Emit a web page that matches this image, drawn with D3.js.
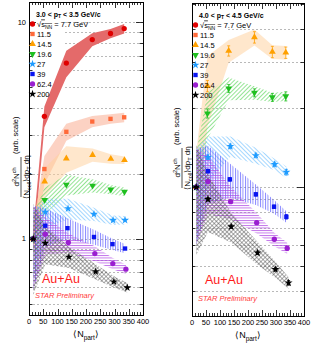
<!DOCTYPE html>
<html lang="en">
<head>
<meta charset="utf-8">
<title>Au+Au Ncoll scaled yields vs Npart</title>
<script src="https://cdn.jsdelivr.net/npm/d3@7"></script>
<style>
  body { margin: 0; background: #fff; }
  svg text { font-family: "Liberation Sans", Arial, sans-serif; }
</style>
</head>
<body>
<script>
// ---- data ----
const energies = ["7.7", "11.5", "14.5", "19.6", "27", "39", "62.4", "200"];
const npart = [
  [15, 54, 131, 222, 286, 334],
  [15, 54, 131, 222, 286, 334],
  [15, 55, 131, 223, 287, 335],
  [15, 55, 131, 223, 287, 335],
  [15, 57, 137, 228, 295, 337],
  [15, 57, 135, 228, 293, 337],
  [15, 57, 138, 231, 294, 340],
  [15, 57, 140, 234, 298, 345]
];
// 3.0 < pT < 3.5 GeV/c
const yieldLow = [
  [1, 3.68, 6.48, 8.32, 8.87, 9.35],
  [1, 2.10, 3.12, 3.48, 3.58, 3.64],
  [1, 1.84, 2.35, 2.44, 2.34, 2.31],
  [1, 1.51, 1.78, 1.76, 1.69, 1.65],
  [1, 1.33, 1.38, 1.30, 1.22, 1.22],
  [1, 1.15, 1.12, 1.02, 0.945, 0.902],
  [1, 1.05, 0.962, 0.855, 0.769, 0.724],
  [1, 0.955, 0.825, 0.706, 0.634, 0.595]
];
const sysLow = [
  [0.10, 0.11, 0.14, 0.07, 0.05, 0.05],
  [0.15, 0.15, 0.09, 0.06, 0.05, 0.05],
  [0.25, 0.15, 0.14, 0.07, 0.05, 0.04],
  [0.30, 0.14, 0.11, 0.07, 0.05, 0.045],
  [0.35, 0.15, 0.11, 0.07, 0.05, 0.045],
  [0.42, 0.20, 0.11, 0.08, 0.06, 0.05],
  [0.42, 0.20, 0.10, 0.08, 0.06, 0.05],
  [0.45, 0.20, 0.11, 0.08, 0.06, 0.05]
];
// 4.0 < pT < 4.5 GeV/c (7.7 and 11.5 not shown)
const yieldHigh = [
  [],
  [],
  [1, 2.43, 3.31, 3.73, 3.28, 3.26],
  [1, 1.91, 2.38, 2.29, 2.20, 2.22],
  [1, 1.30, 1.43, 1.32, 1.22, 1.14],
  [1, 1.15, 1.07, 0.938, 0.841, 0.770],
  [1, 1.05, 0.879, 0.731, 0.632, 0.584],
  [1, 0.898, 0.706, 0.561, 0.485, 0.431]
];
const sysHigh = [
  [],
  [],
  [0.35, 0.30, 0.10, 0.07, 0.06, 0.06],
  [0.35, 0.20, 0.10, 0.06, 0.04, 0.04],
  [0.40, 0.20, 0.09, 0.07, 0.05, 0.05],
  [0.40, 0.25, 0.15, 0.09, 0.06, 0.05],
  [0.40, 0.25, 0.14, 0.09, 0.06, 0.05],
  [0.45, 0.25, 0.13, 0.10, 0.07, 0.05]
];
const statHigh = [
  [],
  [],
  [0, 0.05, 0.045, 0.05, 0.05, 0.05],
  [0, 0.04, 0.035, 0.035, 0.035, 0.04],
  [0, 0.02, 0.02, 0.02, 0.02, 0.025],
  [0, 0.015, 0.015, 0.015, 0.015, 0.02],
  [0, 0.015, 0.015, 0.015, 0.015, 0.02],
  [0, 0.015, 0.015, 0.015, 0.015, 0.02]
];
const xTickLabels = [0, 50, 100, 150, 200, 250, 300, 350, 400];

// ---- styles ----
const markerColor = ["#e00000", "#ff6a3a", "#ffa000", "#1fbf1f", "#1e9bff", "#0a14f0", "#9a1fd0", "#000000"];
const bandFill = ["#e46a6a", "#f9a587", "#ffcf99", "url(#p196)", "url(#p27)", "url(#p39)", "url(#p62)", "url(#p200)"];
const bandOpacity = [1, 0.5, 0.5, 1, 1, 1, 1, 1];
const markerShape = [d3.symbolCircle, d3.symbolSquare, d3.symbolTriangle, d3.symbolTriangle,
  d3.symbolStar, d3.symbolSquare, d3.symbolCircle, d3.symbolStar];
const markerSize = [22, 19, 20, 20, 20, 19, 22, 20];
const markerRot = [0, 0, 0, 180, 0, 0, 0, 0];

const width = 316;
const height = 345;

const svg = d3.select("body").append("svg")
  .attr("width", width)
  .attr("height", height);

const defs = svg.append("defs");

function makePattern(id, w, h, rot) {
  const p = defs.append("pattern")
    .attr("id", id)
    .attr("patternUnits", "userSpaceOnUse")
    .attr("width", w)
    .attr("height", h);
  if (rot) p.attr("patternTransform", "rotate(" + rot + ")");
  return p;
}
// "/" lines (19.6)
let p = makePattern("p196", 3, 3, 45);
p.append("line").attr("x1", 0.5).attr("y1", 0).attr("x2", 0.5).attr("y2", 3)
  .attr("stroke", "#66d966").attr("stroke-width", 0.7);
// "\" lines (27)
p = makePattern("p27", 3, 3, -45);
p.append("line").attr("x1", 0.5).attr("y1", 0).attr("x2", 0.5).attr("y2", 3)
  .attr("stroke", "#7cc6ff").attr("stroke-width", 0.7);
// vertical lines (39)
p = makePattern("p39", 2.5, 2);
p.append("line").attr("x1", 0.5).attr("y1", 0).attr("x2", 0.5).attr("y2", 2)
  .attr("stroke", "#5050ff").attr("stroke-width", 0.7);
// horizontal lines (62.4)
p = makePattern("p62", 3, 2.5);
p.append("line").attr("x1", 0).attr("y1", 0.5).attr("x2", 3).attr("y2", 0.5)
  .attr("stroke", "#b04ae4").attr("stroke-width", 0.8);
// cross hatch (200)
p = makePattern("p200", 3, 3, 45);
p.append("line").attr("x1", 0.5).attr("y1", 0).attr("x2", 0.5).attr("y2", 3)
  .attr("stroke", "#555").attr("stroke-width", 0.5);
p.append("line").attr("x1", 0).attr("y1", 0.5).attr("x2", 3).attr("y2", 0.5)
  .attr("stroke", "#555").attr("stroke-width", 0.5);

const panels = [
  { id: "L", x0: 29, x1: 143, yTop: 2, yBot: 315, yDom: [0.445, 12.4],
    values: yieldLow, sys: sysLow, stat: null, yLabels: [1, 10],
    header: ["3.0 < p", "T", " < 3.5 GeV/c"], legY: 26.5,
    titleX: 21, titleY: 197, auY: 283, starY: 298 },
  { id: "R", x0: 192, x1: 304, yTop: 3, yBot: 316, yDom: [0.322, 5.04],
    values: yieldHigh, sys: sysHigh, stat: statHigh, yLabels: [],
    header: ["4.0 < p", "T", " < 4.5 GeV/c"], legY: 27.5,
    titleX: 182, titleY: 188, auY: 284, starY: 301 }
];

panels.forEach(function (P) {
  const x = d3.scaleLinear().domain([0, 400]).range([P.x0, P.x1]);
  const y = d3.scaleLog().domain(P.yDom).range([P.yBot, P.yTop]);
  const g = svg.append("g");

  defs.append("clipPath").attr("id", "clip" + P.id)
    .append("rect").attr("x", P.x0).attr("y", P.yTop)
    .attr("width", P.x1 - P.x0).attr("height", P.yBot - P.yTop);

  // log tick values inside the domain
  const logVals = [];
  for (let e = -1; e <= 1; e++) {
    for (let k = 1; k <= 9; k++) {
      const v = k * Math.pow(10, e);
      if (v > P.yDom[0] && v < P.yDom[1]) logVals.push({ v: v, major: k === 1 });
    }
  }

  // dashed grid
  g.selectAll(".grid").data(logVals.filter(d => y(d.v) > P.yTop + 3))
    .enter().append("line")
    .attr("x1", P.x0).attr("x2", P.x1)
    .attr("y1", d => Math.round(y(d.v)) + 0.5).attr("y2", d => Math.round(y(d.v)) + 0.5)
    .attr("stroke", "#8a8a8a").attr("stroke-width", 0.6)
    .attr("stroke-dasharray", "2,2");

  // legend background
  g.append("rect")
    .attr("x", P.x0 + 1).attr("y", 18)
    .attr("width", 33).attr("height", 82)
    .attr("fill", "#fff");

  // systematic bands
  const area = d3.area()
    .x(d => x(d.n))
    .y0(d => y(d.lo))
    .y1(d => y(d.hi));
  const bands = g.append("g").attr("clip-path", "url(#clip" + P.id + ")");
  P.values.forEach(function (vals, i) {
    if (!vals.length) return;
    const pts = vals.map((v, j) => ({ n: npart[i][j], lo: v * (1 - P.sys[i][j]), hi: v * (1 + P.sys[i][j]) }));
    bands.append("path")
      .attr("d", area(pts))
      .attr("fill", bandFill[i])
      .attr("fill-opacity", bandOpacity[i]);
  });

  // markers + stat errors
  const marks = g.append("g").attr("clip-path", "url(#clip" + P.id + ")");
  P.values.forEach(function (vals, i) {
    vals.forEach(function (v, j) {
      const cx = x(npart[i][j]);
      if (P.stat && P.stat[i][j] > 0) {
        const s = P.stat[i][j];
        const ya = y(v * (1 - s));
        const yb = y(v * (1 + s));
        marks.append("line").attr("x1", cx).attr("x2", cx).attr("y1", ya).attr("y2", yb)
          .attr("stroke", markerColor[i]).attr("stroke-width", 0.8);
        [ya, yb].forEach(function (yy) {
          marks.append("line").attr("x1", cx - 1.5).attr("x2", cx + 1.5).attr("y1", yy).attr("y2", yy)
            .attr("stroke", markerColor[i]).attr("stroke-width", 0.8);
        });
      }
      marks.append("path")
        .attr("d", d3.symbol().type(markerShape[i]).size(markerSize[i])())
        .attr("transform", "translate(" + cx + "," + y(v) + ") rotate(" + markerRot[i] + ")")
        .attr("fill", markerColor[i]);
    });
  });

  // frame
  g.append("rect")
    .attr("x", P.x0 + 0.5).attr("y", P.yTop + 0.5)
    .attr("width", P.x1 - P.x0).attr("height", P.yBot - P.yTop)
    .attr("fill", "none").attr("stroke", "#000").attr("stroke-width", 1);

  // x ticks (bottom and top)
  const xt = d3.range(0, 401, 10);
  xt.forEach(function (t) {
    const len = t % 50 === 0 ? 6 : 3;
    const xx = Math.round(x(t)) + 0.5;
    g.append("line").attr("x1", xx).attr("x2", xx).attr("y1", P.yBot).attr("y2", P.yBot - len)
      .attr("stroke", "#000").attr("stroke-width", 0.8);
    g.append("line").attr("x1", xx).attr("x2", xx).attr("y1", P.yTop).attr("y2", P.yTop + len)
      .attr("stroke", "#000").attr("stroke-width", 0.8);
  });
  g.selectAll(".xl").data(xTickLabels).enter().append("text")
    .attr("x", d => x(d)).attr("y", P.yBot + 9)
    .attr("text-anchor", "middle").attr("font-size", 7.5)
    .text(d => d);

  // y ticks (left and right)
  logVals.forEach(function (d) {
    const len = d.major ? 7 : 3.5;
    const yy = Math.round(y(d.v)) + 0.5;
    g.append("line").attr("x1", P.x0).attr("x2", P.x0 + len).attr("y1", yy).attr("y2", yy)
      .attr("stroke", "#000").attr("stroke-width", 0.8);
    g.append("line").attr("x1", P.x1).attr("x2", P.x1 - len).attr("y1", yy).attr("y2", yy)
      .attr("stroke", "#000").attr("stroke-width", 0.8);
  });
  g.selectAll(".yl").data(P.yLabels).enter().append("text")
    .attr("x", P.x0 - 3).attr("y", d => y(d) + 2.5)
    .attr("text-anchor", "end").attr("font-size", 7.5)
    .text(d => d);

  // x title
  const xtitle = g.append("text")
    .attr("x", (P.x0 + P.x1) / 2).attr("y", P.yBot + 22)
    .attr("text-anchor", "middle").attr("font-size", 9);
  xtitle.append("tspan").text("\u27E8N");
  xtitle.append("tspan").attr("font-size", 6.5).attr("dy", 2.5).text("part");
  xtitle.append("tspan").attr("dy", -2.5).text("\u27E9");

  // y title
  const yt = g.append("g").attr("transform", "translate(" + P.titleX + "," + P.titleY + ") rotate(-90)");
  yt.append("line").attr("x1", 0).attr("x2", 40).attr("y1", 0).attr("y2", 0)
    .attr("stroke", "#000").attr("stroke-width", 0.7);
  const num = yt.append("text").attr("x", 20).attr("y", -2.5)
    .attr("text-anchor", "middle").attr("font-size", 8);
  num.append("tspan").text("d");
  num.append("tspan").attr("font-size", 5.5).attr("dy", -3).text("2");
  num.append("tspan").attr("dy", 3).text("N");
  num.append("tspan").attr("font-size", 5.5).attr("dy", -3).text("ch");
  const den = yt.append("text").attr("x", 20).attr("y", 7.5)
    .attr("text-anchor", "middle").attr("font-size", 8);
  den.append("tspan").text("\u27E8N");
  den.append("tspan").attr("font-size", 5.5).attr("dy", 2).text("coll");
  den.append("tspan").attr("dy", -2).text("\u27E9dp");
  den.append("tspan").attr("font-size", 5.5).attr("dy", 2).text("T");
  den.append("tspan").attr("dy", -2).text(" d\u03B7");
  yt.append("text").attr("x", 43).attr("y", -3)
    .attr("font-size", 7.5).text("(arb. scale)");

  // legend
  const lx = P.x0 + 3.5;
  const head = g.append("text").attr("x", P.x0 + 7).attr("y", P.legY - 10)
    .attr("font-size", 7).attr("font-weight", "bold");
  head.append("tspan").text(P.header[0]);
  head.append("tspan").attr("font-size", 5).attr("dy", 1.8).text(P.header[1]);
  head.append("tspan").attr("dy", -1.8).text(P.header[2]);

  energies.forEach(function (en, i) {
    const ly = P.legY + i * 10;
    g.append("path")
      .attr("d", d3.symbol().type(markerShape[i]).size(markerSize[i])())
      .attr("transform", "translate(" + lx + "," + (ly - 2.5) + ") rotate(" + markerRot[i] + ")")
      .attr("fill", markerColor[i]);
    const t = g.append("text").attr("x", lx + 4.5).attr("y", ly).attr("font-size", 7.5);
    if (i === 0) {
      t.append("tspan").text("\u221A");
      t.append("tspan").text("s").attr("text-decoration", "overline");
      t.append("tspan").attr("font-size", 5).attr("dy", 2).text("NN").attr("text-decoration", "overline");
      t.append("tspan").attr("dy", -2).text(" = 7.7 GeV");
    } else {
      t.text(en);
    }
  });

  // Au+Au and preliminary tag
  g.append("text").attr("x", P.x0 + 13).attr("y", P.auY)
    .attr("font-size", 12.5).attr("fill", "#ff1a1a").text("Au+Au");
  g.append("text").attr("x", P.x0 + 6).attr("y", P.starY)
    .attr("font-size", 7.5).attr("font-style", "italic").attr("fill", "#ff3b3b")
    .text("STAR Preliminary");
});
</script>
</body>
</html>
